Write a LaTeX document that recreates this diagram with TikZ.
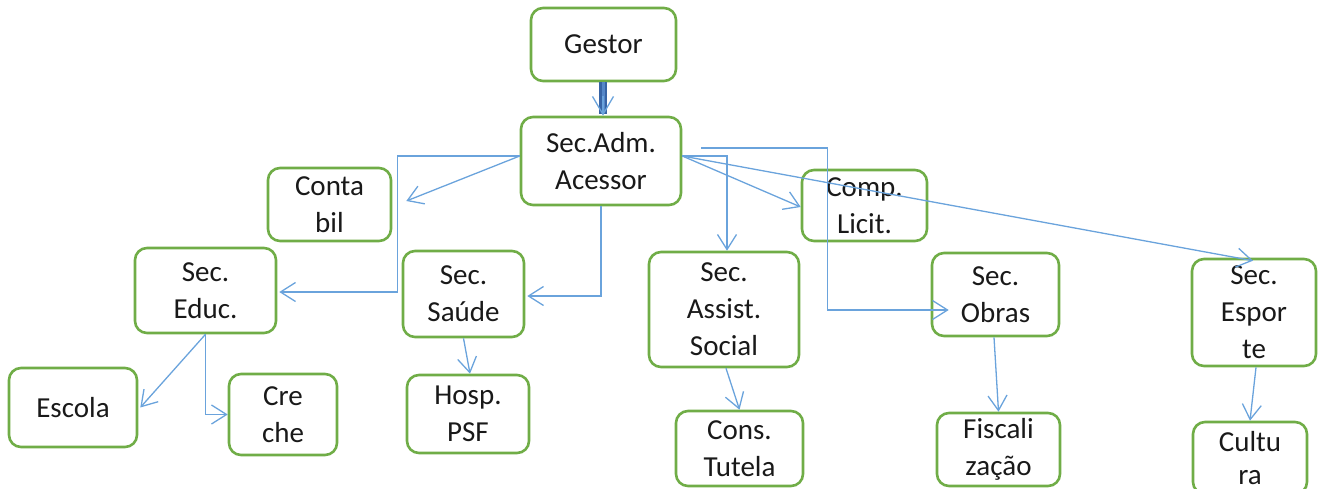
\documentclass[tikz,border=0pt]{standalone}
\usepackage{fontspec}
\setmainfont{Carlito}
\usetikzlibrary{arrows.meta,calc}

\definecolor{boxgreen}{RGB}{112,173,71}
\definecolor{linkblue}{RGB}{106,163,220}
\definecolor{barblue}{RGB}{55,100,165}
\definecolor{barmid}{RGB}{85,135,200}
\definecolor{inktext}{RGB}{25,25,25}

\tikzset{
  unit/.style={draw=boxgreen, line width=2.6pt, rounded corners=12pt,
    inner sep=0pt, align=center, text=inktext,
    font=\fontsize{29}{37}\selectfont},
  link/.style={draw=linkblue, line width=1.3pt,
    -{Straight Barb[length=15pt,width=19pt,line width=1.3pt]}},
}

\newcommand{\unitbox}[5]{%
  \node[unit, minimum width=#3, minimum height=#4] (#1) at #2 {#5};}

\begin{document}
\begin{tikzpicture}[x=1pt,y=-1pt]
\useasboundingbox (0,0) rectangle (1321,488);
\clip (0,0) rectangle (1321,488);

% organisation units
\unitbox{gestor}{(603.5,44.5)}{145pt}{73pt}{Gestor}
\unitbox{adm}{(601,161)}{160pt}{88pt}{Sec.Adm.\\Acessor}
\unitbox{conta}{(329.5,204.5)}{123pt}{73pt}{Conta\\bil}
\unitbox{educ}{(205.5,290.5)}{141pt}{85pt}{Sec.\\Educ.}
\unitbox{saude}{(463.5,294)}{121pt}{86pt}{Sec.\\Saúde}
\unitbox{assist}{(724,309.5)}{150pt}{115pt}{Sec.\\Assist.\\Social}
\unitbox{licit}{(864.5,205.5)}{125pt}{71pt}{Comp.\\Licit.}
\unitbox{obras}{(995.5,294.5)}{127pt}{83pt}{Sec.\\Obras}
\unitbox{esporte}{(1254,312.5)}{124pt}{107pt}{Sec.\\Espor\\te}
\unitbox{escola}{(73,407.5)}{128pt}{79pt}{Escola}
\unitbox{creche}{(283,414.5)}{108pt}{81pt}{Cre\\che}
\unitbox{hosp}{(468,414)}{122pt}{78pt}{Hosp.\\PSF}
\unitbox{cons}{(739.5,448.5)}{127pt}{75pt}{Cons.\\Tutela}
\unitbox{fisc}{(998.5,449.5)}{123pt}{73pt}{Fiscali\\zação}
\node[unit, minimum width=114pt, minimum height=72pt,
  font=\fontsize{29}{33}\selectfont] (cultura) at (1250,458) {Cultu\\ra};

% Gestor -> Sec.Adm.: heavy bar with a light barb
\coordinate (gtop) at ($(gestor.south)+(-0.5,0)$);
\coordinate (gend) at (gtop |- adm.north);
\draw[barblue, line width=8pt] (gtop) -- ($(gend)+(0,-2)$);
\draw[barmid, line width=3pt] (gtop) -- ($(gend)+(0,-4)$);
\draw[link, -{Straight Barb[length=18pt,width=21pt,line width=1.3pt]}]
  ($(gend)+(0,-20)$) -- (gend);

% Sec.Adm. to its units
\draw[link] ($(adm.west)+(0,-5)$) -- ($(conta.east)+(14,-3.5)$);
\draw[link] ($(adm.west)+(0,-5)$) -- ($(adm.west)+(-122,-5)$)
  |- ($(educ.east)+(2,1.5)$);
\draw[link] (adm.south) |- ($(saude.east)+(2,2)$);
\draw[link] ($(adm.east)+(0,-5)$) -| ($(assist.north)+(3,0)$);
\draw[link] ($(adm.east)+(0,-5)$) -- ($(licit.west)+(0,1.5)$);
\draw[link] ($(adm.east)+(19,-13)$) -- ($(adm.east)+(145,-13)$)
  |- ($(obras.west)+(18,15.5)$);
\draw[link] ($(adm.east)+(0,-5)$) -- ($(esporte.north)+(-1,3)$);

% second level
\draw[link] (educ.south) -- ($(escola.east)+(2,0)$);
\draw[link] (educ.south) |- (creche.west);
\draw[link] (saude.south) -- ($(hosp.north)+(2,0)$);
\draw[link] ($(assist.south)+(2,0)$) -- (cons.north);
\draw[link] ($(obras.south)+(-1.5,0)$) -- (fisc.north);
\draw[link] ($(esporte.south)+(2,0)$) -- (cultura.north);
\end{tikzpicture}
\end{document}
